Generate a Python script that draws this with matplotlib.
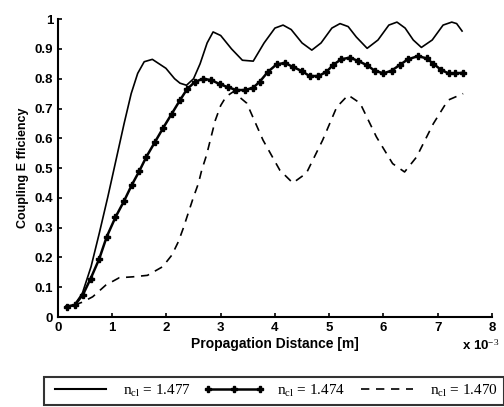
import numpy as np
import matplotlib.pyplot as plt
from matplotlib.lines import Line2D

# n = 1.477 (solid)
x_a = [0.15, 0.3, 0.45, 0.61, 0.76, 0.92, 1.07, 1.22, 1.35, 1.47, 1.59, 1.74, 1.99, 2.15, 2.25, 2.37,
       2.5, 2.62, 2.75, 2.86, 3.0, 3.2, 3.4, 3.6, 3.8, 4.0, 4.15, 4.3, 4.5, 4.68, 4.85, 5.05,
       5.2, 5.35, 5.5, 5.7, 5.9, 6.1, 6.25, 6.4, 6.55, 6.7, 6.9, 7.1, 7.26, 7.35, 7.45]
y_a = [0.037, 0.04, 0.08, 0.169, 0.28, 0.404, 0.527, 0.65, 0.75, 0.818, 0.857, 0.865, 0.835, 0.8, 0.785, 0.778,
       0.8, 0.85, 0.92, 0.957, 0.945, 0.9, 0.862, 0.859, 0.92, 0.97, 0.98, 0.965, 0.92, 0.896, 0.92, 0.97,
       0.985, 0.975, 0.94, 0.902, 0.93, 0.98, 0.99, 0.97, 0.93, 0.905, 0.93, 0.98, 0.99, 0.985, 0.96]

# n = 1.474 (line with markers)
x_b = [0.16, 0.31, 0.46, 0.6, 0.76, 0.9, 1.06, 1.22, 1.36, 1.5, 1.63, 1.79, 1.94, 2.1, 2.25, 2.38,
       2.53, 2.68, 2.83, 2.98, 3.14, 3.29, 3.45, 3.6, 3.72, 3.87, 4.03, 4.18, 4.33, 4.49, 4.64, 4.8,
       4.95, 5.07, 5.22, 5.38, 5.53, 5.69, 5.84, 6.0, 6.15, 6.3, 6.45, 6.64, 6.8, 6.92, 7.07, 7.2,
       7.32, 7.47]
y_b = [0.035, 0.04, 0.075, 0.128, 0.195, 0.27, 0.335, 0.39, 0.443, 0.49, 0.538, 0.588, 0.635, 0.683, 0.728, 0.765,
       0.79, 0.8, 0.795, 0.782, 0.771, 0.762, 0.762, 0.77, 0.79, 0.823, 0.848, 0.853, 0.84, 0.826, 0.809, 0.809,
       0.823, 0.846, 0.865, 0.871, 0.86, 0.846, 0.827, 0.818, 0.827, 0.846, 0.865, 0.876, 0.868, 0.85, 0.829, 0.818,
       0.818, 0.82]

# n = 1.470 (dashed)
x_c = [0.3, 0.45, 0.64, 0.88, 1.13, 1.38, 1.65, 1.93, 2.1, 2.22, 2.31, 2.4, 2.49, 2.59, 2.65, 2.74,
       2.8, 2.9, 3.0, 3.1, 3.23, 3.48, 3.78, 4.09, 4.33, 4.58, 4.88, 5.14, 5.35, 5.57, 5.87, 6.17,
       6.39, 6.61, 6.92, 7.19, 7.47]
y_c = [0.04, 0.05, 0.068, 0.107, 0.132, 0.135, 0.14, 0.169, 0.208, 0.253, 0.298, 0.348, 0.398, 0.449, 0.493, 0.544,
       0.588, 0.66, 0.71, 0.74, 0.756, 0.718, 0.594, 0.493, 0.45, 0.483, 0.594, 0.705, 0.745, 0.718, 0.605, 0.515,
       0.487, 0.537, 0.649, 0.728, 0.75]

labels = ['n$_{cl}$ = 1.477', 'n$_{cl}$ = 1.474', 'n$_{cl}$ = 1.470']

plt.rcParams['font.family'] = ['Liberation Sans', 'DejaVu Sans']
plt.rcParams['mathtext.fontset'] = 'custom'
plt.rcParams['mathtext.rm'] = 'Liberation Serif'
plt.rcParams['mathtext.it'] = 'Liberation Serif'

fig = plt.figure(figsize=(5.04, 4.07), dpi=100)
ax = fig.add_axes([0.115, 0.221, 0.861, 0.732])

ax.plot(x_a, y_a, color='black', lw=1.2)
ax.plot(x_b, y_b, color='black', lw=1.8, marker='P', ms=5)
ax.plot(x_c, y_c, color='black', lw=1.2, ls=(0, (5, 4)))

ax.set_xlim(0, 8)
ax.set_ylim(0, 1)
ax.set_xticks(range(9))
ax.set_yticks(np.arange(0, 1.01, 0.1))
ax.set_yticklabels(['0', '0.1', '0.2', '0.3', '0.4', '0.5', '0.6', '0.7', '0.8', '0.9', '1'])
ax.tick_params(direction='in', length=3, labelsize=9.5, width=1.2)
for lab in ax.get_xticklabels() + ax.get_yticklabels():
    lab.set_fontweight('bold')
ax.spines['top'].set_visible(False)
ax.spines['right'].set_visible(False)
ax.spines['left'].set_linewidth(1.5)
ax.spines['bottom'].set_linewidth(1.5)

ax.set_xlabel('Propagation Distance [m]', fontsize=10, fontweight='bold', labelpad=2)
ax.set_ylabel('Coupling E fficiency', fontsize=9, fontweight='bold', labelpad=4)
fig.text(0.99, 0.14, r'x 10$^{-3}$', fontsize=9.5, fontweight='bold', ha='right')

handles = [Line2D([], [], color='black', lw=1.5),
           Line2D([], [], color='black', lw=1.8, marker='P', ms=4),
           Line2D([], [], color='black', lw=1.2, ls=(0, (5, 4)))]
leg = fig.legend(handles, labels, loc='lower left', bbox_to_anchor=(0.087, 0.005, 0.913, 0.085),
                 mode='expand', ncol=3, frameon=True, fancybox=False, edgecolor='black',
                 prop={'family': 'Liberation Serif', 'size': 11}, handlelength=4, numpoints=3,
                 borderaxespad=0, columnspacing=2)
leg.get_frame().set_linewidth(1.5)

fig.savefig('out.png', dpi=100)
